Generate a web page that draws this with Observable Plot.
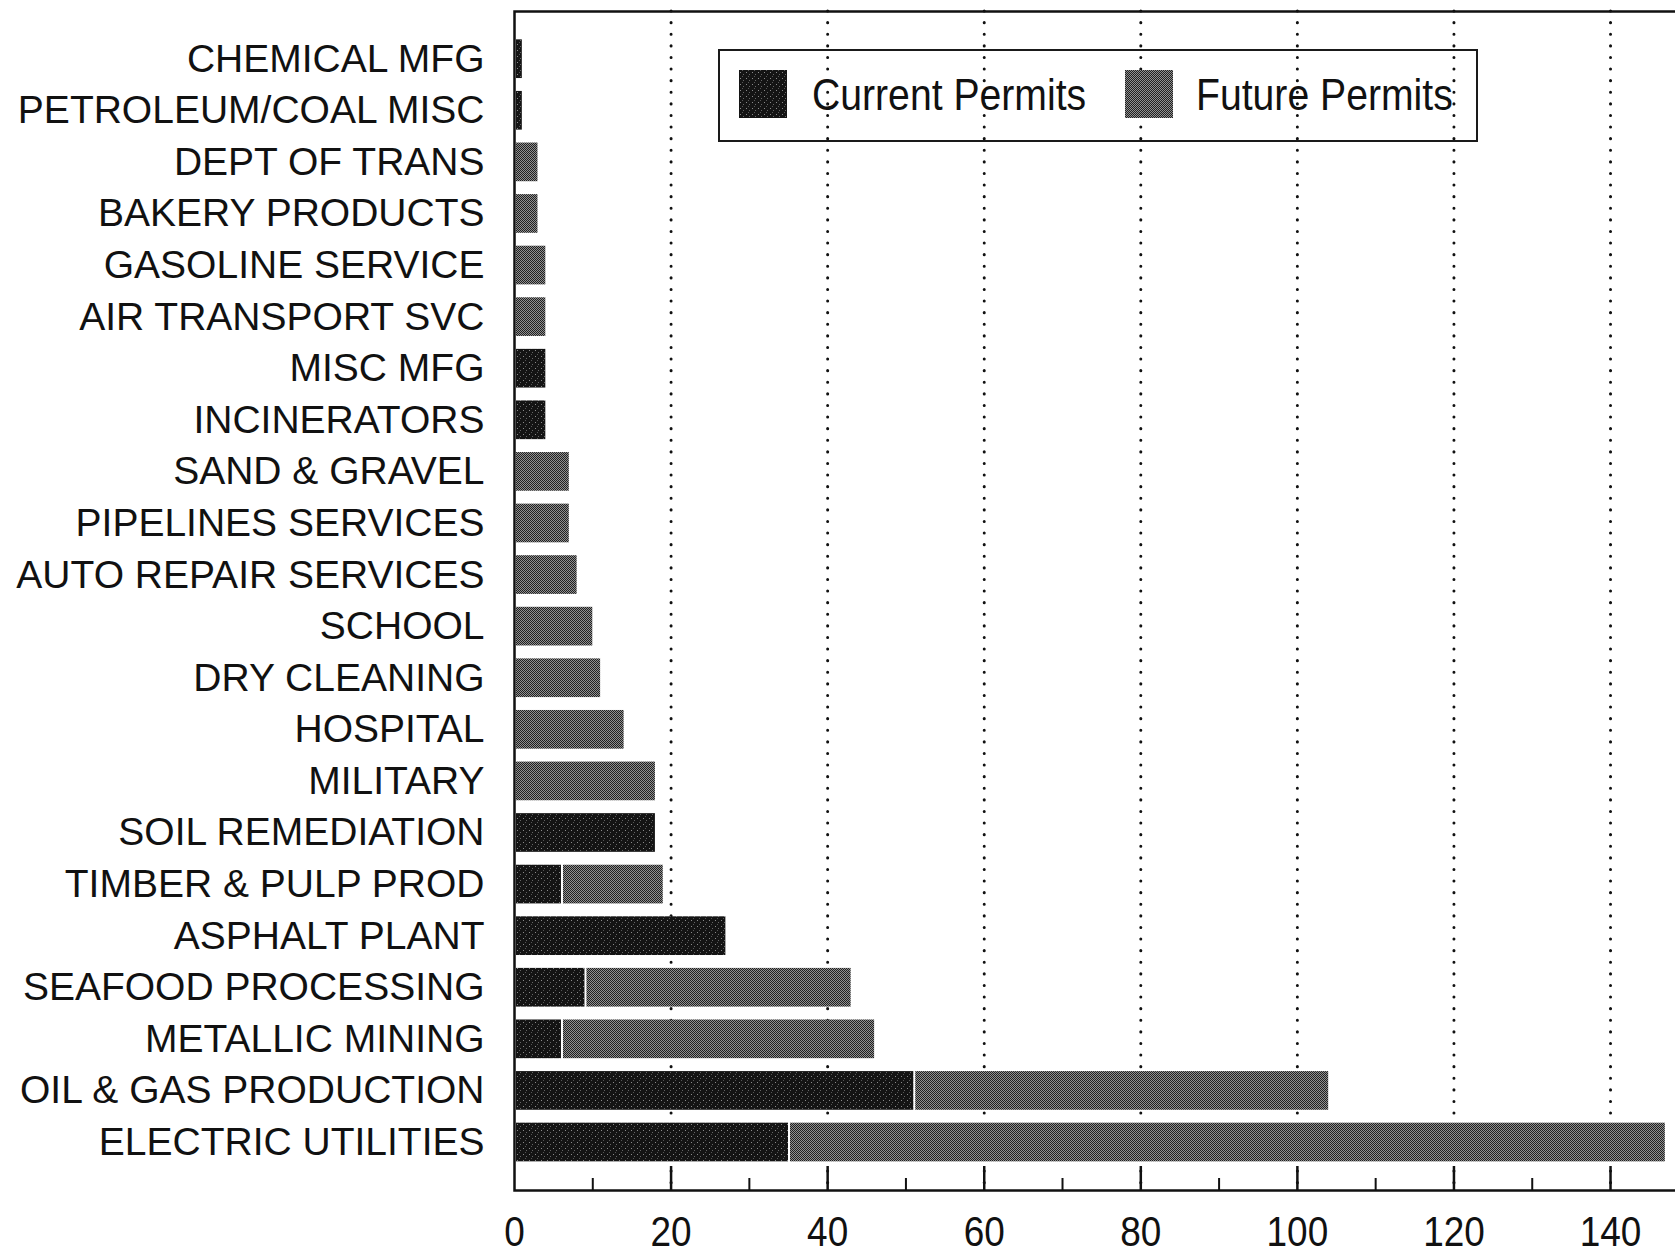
<!DOCTYPE html>
<html>
<head>
<meta charset="utf-8">
<script src="https://cdn.jsdelivr.net/npm/d3@7"></script>
<script src="https://cdn.jsdelivr.net/npm/@observablehq/plot@0.6"></script>
<style>
  html, body { margin: 0; padding: 0; background: #ffffff; overflow: hidden; }
  #wrap { position: relative; width: 1675px; height: 1254px; }
  #legend { position: absolute; left: 718px; top: 49px; width: 756px; height: 89px;
            border: 2px solid #1a1a1a; background: transparent; }
  .sw { position: absolute; top: 19px; width: 48px; height: 48px; }
  .lt { position: absolute; top: 21px; font-family: "Liberation Sans", Arial, sans-serif;
        font-size: 45px; line-height: 45px; color: #111; white-space: nowrap;
        transform: scaleX(0.87); transform-origin: 0 50%; }
</style>
</head>
<body>
<div id="wrap">
  <svg width="0" height="0" style="position:absolute">
    <defs>
      <pattern id="pc" width="6" height="6" patternUnits="userSpaceOnUse">
        <rect width="6" height="6" fill="#141414"/>
        <rect x="1" y="2" width="1" height="1" fill="#8a8a8a"/>
        <rect x="4" y="4" width="1" height="1" fill="#666"/>
        <rect x="3" y="0" width="1" height="1" fill="#555"/>
      </pattern>
      <pattern id="pf" width="2" height="2" patternUnits="userSpaceOnUse">
        <rect width="2" height="2" fill="#909090"/>
        <rect x="0" y="0" width="1" height="1" fill="#202020"/>
        <rect x="1" y="1" width="1" height="1" fill="#202020"/>
      </pattern>
    </defs>
  </svg>
</div>
<script>
// ---- data ----
const categories = [
  "CHEMICAL MFG", "PETROLEUM/COAL MISC", "DEPT OF TRANS", "BAKERY PRODUCTS",
  "GASOLINE SERVICE", "AIR TRANSPORT SVC", "MISC MFG", "INCINERATORS",
  "SAND & GRAVEL", "PIPELINES SERVICES", "AUTO REPAIR SERVICES", "SCHOOL",
  "DRY CLEANING", "HOSPITAL", "MILITARY", "SOIL REMEDIATION",
  "TIMBER & PULP PROD", "ASPHALT PLANT", "SEAFOOD PROCESSING", "METALLIC MINING",
  "OIL & GAS PRODUCTION", "ELECTRIC UTILITIES"
];
const currentPermits = [1, 1, 0, 0, 0, 0, 4, 4, 0, 0, 0, 0, 0, 0, 0, 18, 6, 27, 9, 6, 51, 35];
const futurePermits  = [0, 0, 3, 3, 4, 4, 0, 0, 7, 7, 8, 10, 11, 14, 18, 0, 13, 0, 34, 40, 53, 112];
const majorTicks = [0, 20, 40, 60, 80, 100, 120, 140];
const minorTicks = [10, 30, 50, 70, 90, 110, 130];
const seriesNames = ["Current Permits", "Future Permits"];

const rows = categories.map((c, i) => ({cat: c, current: currentPermits[i], future: futurePermits[i]}));

const frameH = 1254 - 11 - 64;

const chart = Plot.plot({
  width: 1675,
  height: 1254,
  marginLeft: 514,
  marginRight: 0,
  marginTop: 11,
  marginBottom: 64,
  x: {domain: [0, 148.3]},
  y: {domain: categories, range: [32.9, 1167.8], paddingInner: 0.25, paddingOuter: 0.125, align: 0.5, round: false},
  style: {fontFamily: "'Liberation Sans', Arial, sans-serif", fontSize: "39px", color: "#111", background: "#ffffff"},
  marks: [
    Plot.ruleX(majorTicks.filter(d => d > 0), {stroke: "#111", strokeWidth: 3, strokeDasharray: "0.1,11.5", strokeLinecap: "round"}),
    Plot.barX(rows.filter(d => d.current > 0), {y: "cat", x1: () => 0, x2: "current", fill: "url(#pc)", insetLeft: 2}),
    Plot.barX(rows.filter(d => d.future > 0), {y: "cat", x1: "current", x2: d => d.current + d.future, fill: "url(#pf)", insetLeft: 2}),
    Plot.ruleX(minorTicks, {stroke: "#111", strokeWidth: 2, insetTop: frameH - 12}),
    Plot.ruleX(majorTicks.filter(d => d > 0), {stroke: "#111", strokeWidth: 2.5, insetTop: frameH - 24}),
    Plot.frame({stroke: "#111", strokeWidth: 2.5, insetRight: -8}),
    Plot.axisY({tickSize: 0, tickPadding: 30, label: null, fontSize: 39}),
    Plot.axisX(majorTicks, {tickSize: 0, tickPadding: 26, label: null, fontSize: 42,
      fontFamily: "'Liberation Sans', Arial, sans-serif"})
  ]
});
const wrap = document.getElementById("wrap");
wrap.appendChild(chart);

// narrow the x tick labels (condensed face in the original)
chart.querySelectorAll("g[aria-label='x-axis tick label'] text").forEach(t => {
  const tr = t.getAttribute("transform") || "";
  t.setAttribute("transform", tr + " scale(0.88,1)");
});

// legend overlay inside plot area
const legend = document.createElement("div");
legend.id = "legend";
const swLeft = [19, 405];
const txLeft = [92, 476];
const fills = ["url(#pc)", "url(#pf)"];
seriesNames.forEach((name, i) => {
  const sw = document.createElementNS("http://www.w3.org/2000/svg", "svg");
  sw.setAttribute("class", "sw");
  sw.setAttribute("width", 48);
  sw.setAttribute("height", 48);
  sw.style.left = swLeft[i] + "px";
  const r = document.createElementNS("http://www.w3.org/2000/svg", "rect");
  r.setAttribute("width", 48); r.setAttribute("height", 48);
  r.setAttribute("fill", fills[i]);
  sw.appendChild(r);
  legend.appendChild(sw);
  const t = document.createElement("div");
  t.className = "lt";
  t.style.left = txLeft[i] + "px";
  t.textContent = name;
  legend.appendChild(t);
});
wrap.appendChild(legend);
</script>
</body>
</html>
